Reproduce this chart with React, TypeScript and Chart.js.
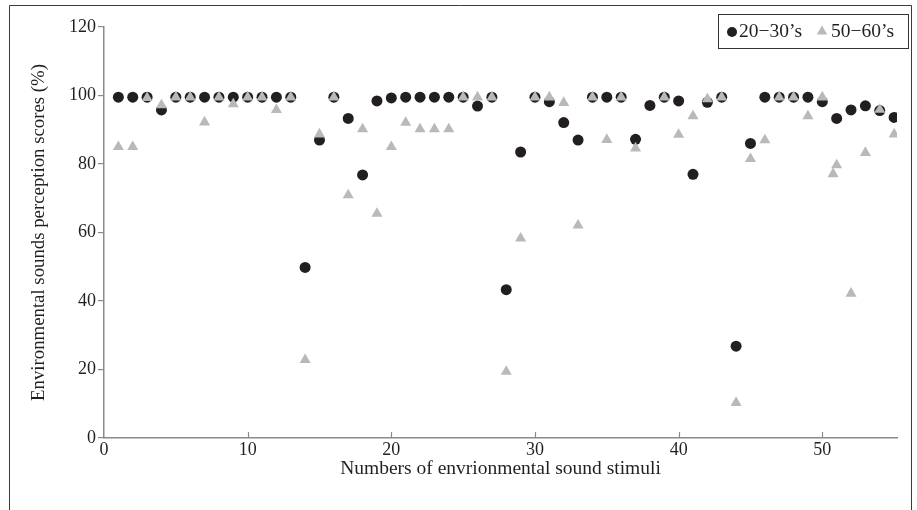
import React, { useEffect, useRef } from "react";
import { Chart, registerables } from "chart.js";

Chart.register(...registerables);

// Stimulus numbers for the 20–30's group
const youngX = [
  1, 2, 3, 4, 5, 6, 7, 8, 9, 10, 11, 12, 13, 14, 15, 16, 17, 18, 19, 20,
  21, 22, 23, 24, 25, 26, 27, 28, 29, 30, 31, 32, 33, 34, 35, 36, 37, 38, 39, 40,
  41, 42, 43, 44, 45, 46, 47, 48, 49, 50, 51, 52, 53, 54, 55,
];
const youngScores = [
  99.5, 99.5, 99.5, 95.8, 99.5, 99.5, 99.5, 99.5, 99.5, 99.5,
  99.5, 99.5, 99.5, 49.8, 87.0, 99.5, 93.3, 76.8, 98.4, 99.3,
  99.5, 99.5, 99.5, 99.5, 99.5, 96.9, 99.5, 43.3, 83.5, 99.5,
  98.2, 92.1, 87.0, 99.5, 99.5, 99.5, 87.2, 97.1, 99.5, 98.4,
  77.0, 98.0, 99.5, 26.8, 86.0, 99.5, 99.5, 99.5, 99.5, 98.2,
  93.3, 95.8, 97.0, 95.6, 93.6,
];

// Stimulus numbers for the 50–60's group
const olderX = [
  1, 2, 3, 4, 5, 6, 7, 8, 9, 10, 11, 12, 13, 14, 15, 16, 17, 18, 19, 20,
  21, 22, 23, 24, 25, 26, 27, 28, 29, 30, 31, 32, 33, 34, 35, 36, 37, 39, 40,
  41, 42, 43, 44, 45, 46, 47, 48, 49, 50, 50.75, 51, 52, 53, 54, 55,
];
const olderScores = [
  85.0, 85.0, 99.3, 97.2, 99.5, 99.5, 92.2, 99.5, 97.5, 99.5,
  99.5, 95.8, 99.5, 22.8, 88.7, 99.5, 70.9, 90.2, 65.5, 85.0,
  92.1, 90.2, 90.2, 90.2, 99.5, 99.5, 99.5, 19.4, 58.3, 99.5,
  99.5, 97.9, 62.1, 99.5, 87.1, 99.5, 84.6, 99.5, 88.6,
  94.0, 99.0, 99.5, 10.3, 81.5, 87.0, 99.5, 99.5, 94.0, 99.5, 77.1, 79.7,
  42.2, 83.3, 95.9, 88.7,
];

const xTickValues = [10, 20, 30, 40, 50];
const legendLabels = ["20\u221230\u2019s", "50\u221260\u2019s"];
const yTitle = "Environmental sounds perception scores (%)";
const xTitle = "Numbers of envrionmental sound stimuli";

const FONT = "'Liberation Serif', 'Times New Roman', serif";
const BLACK = "#231f20";
const GREY = "#b9b9b9";
const AXIS = "#8a8a8a";

const decorPlugin = {
  id: "decor",
  afterDraw(chart: any) {
    const { ctx, chartArea, scales } = chart;
    ctx.save();
    // inward x ticks
    ctx.strokeStyle = AXIS;
    ctx.lineWidth = 1.2;
    xTickValues.forEach((v) => {
      const px = Math.round(scales.x.getPixelForValue(v)) + 0.5;
      ctx.beginPath();
      ctx.moveTo(px, chartArea.bottom);
      ctx.lineTo(px, chartArea.bottom - 6);
      ctx.stroke();
    });
    // outer frame
    ctx.strokeStyle = "#3a3a3a";
    ctx.lineWidth = 1;
    ctx.beginPath();
    ctx.moveTo(9.5, 512);
    ctx.lineTo(9.5, 5.5);
    ctx.lineTo(911.5, 5.5);
    ctx.lineTo(911.5, 512);
    ctx.stroke();
    // legend box
    ctx.strokeStyle = "#333";
    ctx.strokeRect(718.5, 14.5, 190, 34);
    // legend markers
    ctx.fillStyle = BLACK;
    ctx.beginPath();
    ctx.arc(732, 32, 5, 0, Math.PI * 2);
    ctx.fill();
    ctx.fillStyle = GREY;
    const tr = 6;
    const cx = 822, cy = 31.5;
    ctx.beginPath();
    ctx.moveTo(cx, cy - tr);
    ctx.lineTo(cx + tr * Math.sin((2 * Math.PI) / 3), cy - tr * Math.cos((2 * Math.PI) / 3));
    ctx.lineTo(cx + tr * Math.sin((4 * Math.PI) / 3), cy - tr * Math.cos((4 * Math.PI) / 3));
    ctx.closePath();
    ctx.fill();
    ctx.fillStyle = BLACK;
    ctx.font = `19.5px ${FONT}`;
    ctx.textBaseline = "middle";
    ctx.textAlign = "left";
    ctx.fillText(legendLabels[0], 739, 32);
    ctx.fillText(legendLabels[1], 831, 32);
    ctx.restore();
  },
};

export default function App() {
  const ref = useRef<HTMLCanvasElement | null>(null);
  useEffect(() => {
    if (!ref.current) return;
    const chart = new Chart(ref.current, {
      type: "scatter",
      data: {
        datasets: [
          {
            label: legendLabels[1],
            data: olderX.map((x, i) => ({ x, y: olderScores[i] })),
            pointStyle: "triangle",
            pointRadius: 6.4,
            pointBackgroundColor: GREY,
            pointBorderColor: GREY,
            pointBorderWidth: 0,
            order: 0,
          },
          {
            label: legendLabels[0],
            data: youngX.map((x, i) => ({ x, y: youngScores[i] })),
            pointStyle: "circle",
            pointRadius: 5.5,
            pointBackgroundColor: BLACK,
            pointBorderColor: BLACK,
            pointBorderWidth: 0,
            order: 1,
          },
        ],
      },
      options: {
        animation: false,
        responsive: false,
        events: [],
        layout: { padding: { left: 0, top: 27, right: 20, bottom: 0 } },
        plugins: { legend: { display: false }, tooltip: { enabled: false } },
        scales: {
          x: {
            type: "linear",
            min: 0,
            max: 55.2,
            afterFit: (s: any) => { s.height = 72; },
            ticks: {
              stepSize: 10,
              includeBounds: false,
              color: "#231f20",
              font: { family: FONT, size: 18 },
              padding: 1,
              maxRotation: 0,
            },
            grid: { display: true, drawOnChartArea: false, drawTicks: false, color: AXIS },
            border: { display: true, color: AXIS, width: 1.5 },
            title: {
              display: true,
              text: xTitle,
              color: "#231f20",
              font: { family: FONT, size: 19.5 },
              padding: { top: 0, bottom: 29 },
            },
          },
          y: {
            min: 0,
            max: 120,
            afterFit: (s: any) => { s.width = 104; },
            ticks: {
              stepSize: 20,
              color: "#231f20",
              font: { family: FONT, size: 18 },
              padding: 2,
            },
            grid: { display: true, drawOnChartArea: false, drawTicks: true, tickLength: 6, color: AXIS, lineWidth: 1.2 },
            border: { display: true, color: AXIS, width: 1.5 },
            title: {
              display: true,
              text: yTitle,
              color: "#231f20",
              font: { family: FONT, size: 18.8 },
              padding: { top: 28, bottom: 0 },
            },
          },
        },
      },
      plugins: [decorPlugin],
    });
    return () => chart.destroy();
  }, []);
  return (
    <div style={{ position: "fixed", left: 0, top: 0, width: 917, height: 510, background: "#fff" }}>
      <canvas ref={ref} width={917} height={510} style={{ display: "block" }} />
    </div>
  );
}
